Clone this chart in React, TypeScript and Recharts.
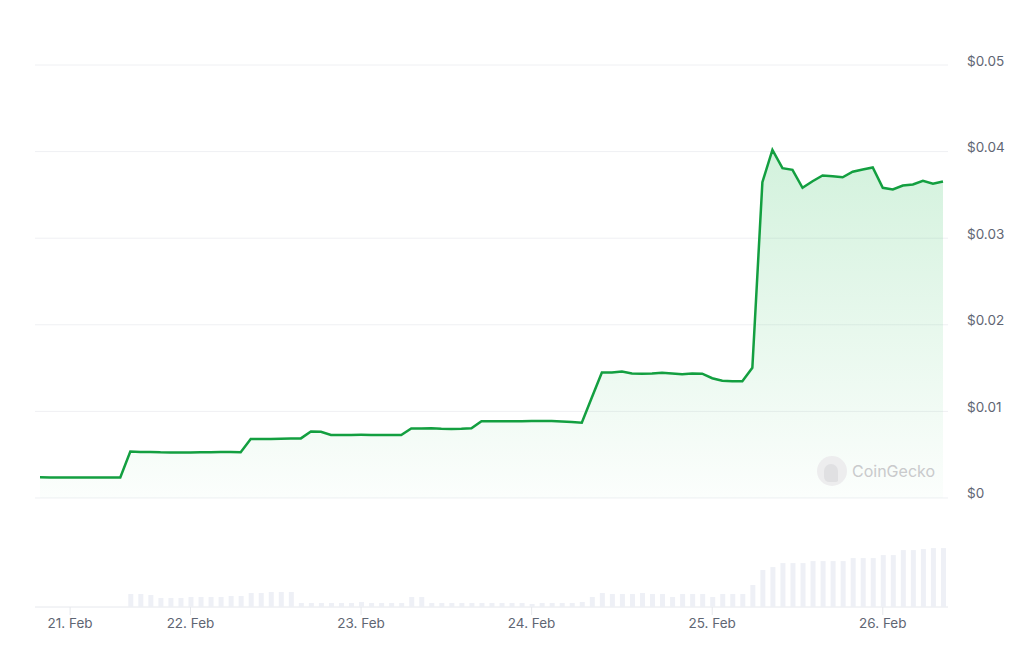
import { ComposedChart, Area, Bar, XAxis, YAxis, CartesianGrid } from "recharts"

// price in USD, one point per step (~1.4h)
const prices = [
  0.00238, 0.00237, 0.00236, 0.00236, 0.00237, 0.00237, 0.00237, 0.00237, 0.00237,
  0.00537, 0.0053, 0.00532, 0.00527, 0.00526, 0.00525, 0.00526, 0.00527, 0.00529, 0.0053, 0.0053, 0.00529,
  0.0068, 0.00681, 0.00681, 0.00683, 0.00686, 0.00688,
  0.00768, 0.00765, 0.00728, 0.00727, 0.00728, 0.00729, 0.00728, 0.00728, 0.00727, 0.00727,
  0.00802, 0.00803, 0.00806, 0.008, 0.00797, 0.00798, 0.00804,
  0.00887, 0.00886, 0.00886, 0.00887, 0.00887, 0.0089, 0.0089, 0.00888, 0.00882, 0.00876, 0.00868,
  0.0116,
  0.01449, 0.01449, 0.0146, 0.01438, 0.01434, 0.01438, 0.01446, 0.01438, 0.0143, 0.01438, 0.01436,
  0.01383, 0.01353, 0.01349, 0.01349, 0.01503,
  0.03647, 0.0402, 0.03808, 0.0379, 0.03582, 0.03658, 0.03724, 0.03716, 0.03704, 0.03767, 0.03793, 0.03816,
  0.03582, 0.03562, 0.03608, 0.0362, 0.03663, 0.03628, 0.03655,
]

// traded volume (USD)
const volumes = [
  0, 0, 0, 0, 0, 0, 0, 0, 0,
  13000, 13000, 12000,
  9000, 9000, 9000, 10000, 10000, 10000, 10000, 11000, 11000,
  14000, 14000, 15000, 15000, 15000,
  4000, 4000, 4000, 4000, 4000, 4000, 5000, 4000, 4000, 4000, 4000,
  10000, 10000,
  4000, 4000, 4000, 4000, 4000, 4000, 4000, 4000, 4000, 4000, 3000, 4000, 4000, 4000, 4000,
  5000,
  10000, 14000, 13000, 13000, 13000, 14000, 13000, 13000, 10000, 13000, 13000, 13000, 10000, 13000, 13000, 13000,
  22000, 37000, 40000, 44000, 44000, 44000, 46000, 46000, 46000, 46000, 49000, 49000, 49000, 52000, 52000,
  57000, 57000, 58000, 59000, 59000,
]

const tickIndex = [3, 15, 32, 49, 67, 84]
const tickLabels = ["21. Feb", "22. Feb", "23. Feb", "24. Feb", "25. Feb", "26. Feb"]
const priceTicks = [0, 0.01, 0.02, 0.03, 0.04, 0.05]

const data = prices.map((price, i) => ({ i, price, volume: volumes[i] }))

const font = "Inter, 'Noto Sans', sans-serif"

const PriceTick = (props: any) => {
  const { x, y, payload } = props
  return (
    <text x={x} y={y} dy={0.5} textAnchor="start" fill="#5f6673" fontSize={13.5} fontFamily={font}>
      {payload.value === 0 ? "$0" : `$${payload.value.toFixed(2)}`}
    </text>
  )
}

const DateTick = (props: any) => {
  const { x, y, payload } = props
  const idx = tickIndex.indexOf(payload.value)
  return (
    <text x={x} y={y} dy={11} textAnchor="middle" fill="#5f6673" fontSize={13.5} fontFamily={font}>
      {tickLabels[idx]}
    </text>
  )
}

export default function App() {
  return (
    <div style={{ position: "absolute", left: 0, top: 0, width: 1024, height: 655, background: "#fff" }}>
      <ComposedChart
        width={1024}
        height={655}
        data={data}
        margin={{ top: 65, right: 0, bottom: 18, left: 35 }}
      >
        <defs>
          <linearGradient id="priceFill" x1="0" y1="0" x2="0" y2="1">
            <stop offset="0%" stopColor="#3cc468" stopOpacity={0.38} />
            <stop offset="100%" stopColor="#3cc468" stopOpacity={0.03} />
          </linearGradient>
        </defs>
        <CartesianGrid vertical={false} stroke="#eff0f3" yAxisId="price" />
        <XAxis
          dataKey="i"
          ticks={tickIndex}
          interval={0}
          height={30}
          axisLine={{ stroke: "#eef0f3" }}
          tickLine={{ stroke: "#e6e8ec" }}
          tickSize={8}
          tick={<DateTick />}
        />
        <YAxis
          yAxisId="price"
          orientation="right"
          width={76}
          domain={[-0.01259, 0.05]}
          ticks={priceTicks}
          axisLine={false}
          tickLine={false}
          tickSize={0}
          tickMargin={19}
          tick={<PriceTick />}
        />
        <YAxis yAxisId="vol" hide domain={[0, (max: number) => max * 9.2]} />
        <Bar yAxisId="vol" dataKey="volume" fill="#eef0f6" barSize={5} isAnimationActive={false} />
        <Area
          yAxisId="price"
          type="linear"
          dataKey="price"
          baseValue={0}
          stroke="#139f40"
          strokeWidth={2.5}
          fill="url(#priceFill)"
          dot={false}
          activeDot={false}
          isAnimationActive={false}
        />
      </ComposedChart>
      <div
        style={{
          position: "absolute",
          left: 817,
          top: 456,
          display: "flex",
          alignItems: "center",
          gap: 5,
          fontFamily: font,
          fontSize: 16,
          color: "#c9cacc",
        }}
      >
        <div style={{ width: 30, height: 30, borderRadius: 15, background: "#ededee", position: "relative" }}>
          <div style={{ position: "absolute", left: 7, top: 8, width: 14, height: 18, borderRadius: "8px 8px 2px 6px", background: "#e0e0e2" }} />
        </div>
        <span>CoinGecko</span>
      </div>
    </div>
  )
}
